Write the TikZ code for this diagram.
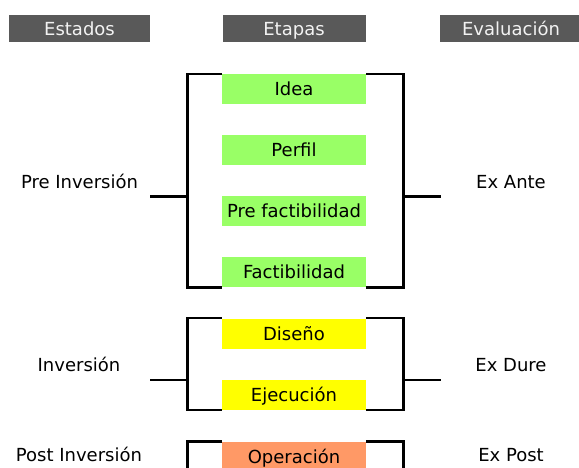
\documentclass[tikz,border=0pt]{standalone}
\usepackage{fontspec}
\setmainfont{DejaVu Sans}
\usetikzlibrary{backgrounds}
\definecolor{hdrgray}{HTML}{595959}
\definecolor{hdrtext}{HTML}{F2F2F2}
\definecolor{stgreen}{HTML}{99FF66}
\definecolor{styellow}{HTML}{FFFF00}
\definecolor{storange}{HTML}{FF9966}
\begin{document}
\begin{tikzpicture}[x=1pt,y=-1pt,
  every node/.style={font=\fontsize{18}{20}\selectfont, text height=13pt, text depth=0pt, inner sep=0pt},
  hdr/.style={fill=hdrgray, text=hdrtext, minimum width=143pt, minimum height=27.5pt},
  stage/.style={minimum width=144pt, minimum height=30pt},
  brk/.style={line width=2.2pt, line join=miter}
]
\useasboundingbox (0,0) rectangle (579,468);

% headers
\node[hdr, minimum width=141.5pt] (h1) at (79.5,28.7) {Estados};
\node[hdr] (h2) at (294,28.7) {Etapas};
\node[hdr] (h3) at (511,28.7) {Evaluación};

% stage boxes
\node[stage, fill=stgreen] (idea) at (294,89.5) {Idea};
\node[stage, fill=stgreen] (perfil) at (294,150) {Perfil};
\node[stage, fill=stgreen] (prefac) at (294,211) {Pre factibilidad};
\node[stage, fill=stgreen] (fac) at (294,272.3) {Factibilidad};
\node[stage, fill=styellow] (dis) at (294,333.5) {Diseño};
\node[stage, fill=styellow] (eje) at (294,394.5) {Ejecución};
\node[stage, fill=storange] (ope) at (294,456.7) {Operación};

% state and evaluation labels
\node (preinv) at (79.5,182) {Pre Inversión};
\node (exante) at (511,182) {Ex Ante};
\node (inv) at (79,365) {Inversión};
\node (exdure) at (511,365) {Ex Dure};
\node (postinv) at (79,455) {Post Inversión};
\node (expost) at (511,455) {Ex Post};

% bracket x positions
\coordinate (xl) at (187.5,0);
\coordinate (xr) at (403.5,0);

% stub ends
\coordinate (s1l) at (150,196.5);
\coordinate (s1r) at (440.5,196.5);
\coordinate (s2l) at (150,380.3);
\coordinate (s2r) at (440.5,380.3);
\coordinate (bot) at (0,472);

\begin{pgfonlayer}{background}
% bracket 1
\draw[brk] (idea.north west) -| (xl |- fac.south west) -- (fac.south west);
\draw[brk] (idea.north east) -| (xr |- fac.south east) -- (fac.south east);
\draw[brk] (s1l) -- (s1l -| xl);
\draw[brk] (s1r) -- (s1r -| xr);
% bracket 2
\draw[brk] (dis.north west) -| (xl |- eje.south west) -- (eje.south west);
\draw[brk] (dis.north east) -| (xr |- eje.south east) -- (eje.south east);
\draw[brk] (s2l) -- (s2l -| xl);
\draw[brk] (s2r) -- (s2r -| xr);
% bracket 3
\draw[brk] (ope.north west) -| (xl |- bot);
\draw[brk] (ope.north east) -| (xr |- bot);
\end{pgfonlayer}
\end{tikzpicture}
\end{document}
